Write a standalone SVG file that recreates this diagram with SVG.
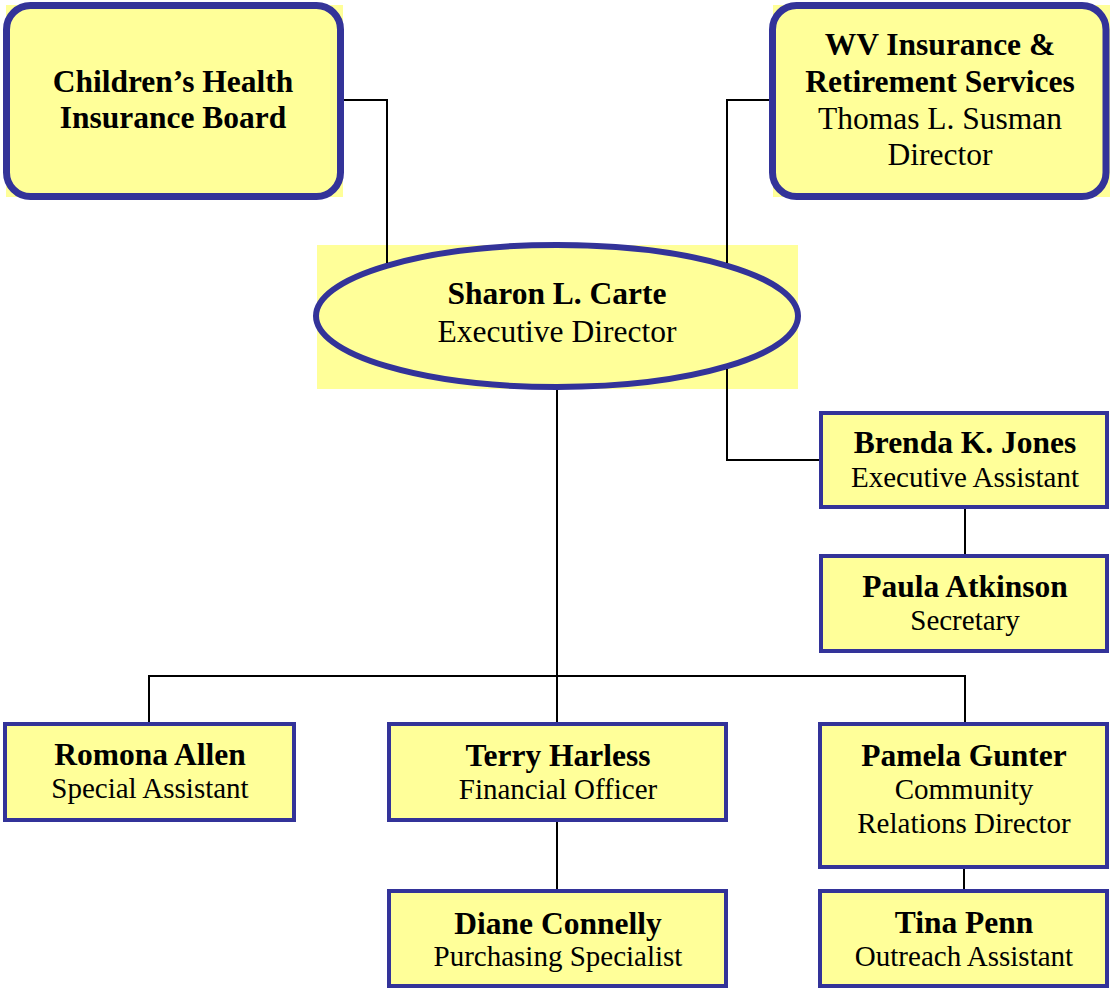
<svg xmlns="http://www.w3.org/2000/svg" width="1110" height="988" viewBox="0 0 1110 988">
<style>
.bg{fill:#FFFF99;}
.rbox{fill:#FFFF99;stroke:#333399;stroke-width:7;}
.box{fill:#FFFF99;stroke:#333399;stroke-width:4;}
.ell{fill:#FFFF99;stroke:#333399;stroke-width:6;}
.conn{fill:none;stroke:#000000;stroke-width:2;}
text{font-family:"Liberation Serif","Times New Roman",serif;fill:#000;text-anchor:middle;}
.b{font-weight:bold;font-size:31.5px;}
.r{font-size:31.5px;}
.bs{font-weight:bold;font-size:31.5px;}
.rs{font-size:29px;}
</style>
<rect width="1110" height="988" fill="#ffffff"/>
<g id="node-chib">
<rect class="bg" x="6" y="5" width="337" height="192"/>
<rect class="rbox" x="6.5" y="5.5" width="334" height="191" rx="24"/>
<text class="b" x="173" y="92">Children’s Health</text>
<text class="b" x="173" y="128">Insurance Board</text>
</g>
<g id="node-wv">
<rect class="bg" x="773" y="5" width="337" height="192"/>
<rect class="rbox" x="772.5" y="5.5" width="333.5" height="191" rx="24"/>
<text class="b" x="940" y="55">WV Insurance &amp;</text>
<text class="b" x="940" y="92">Retirement Services</text>
<text class="r" x="940" y="129">Thomas L. Susman</text>
<text class="r" x="940" y="165">Director</text>
</g>
<g id="node-carte">
<rect class="bg" x="317" y="245" width="481" height="144"/>
<ellipse class="ell" cx="557" cy="316" rx="241" ry="71"/>
<text class="b" x="557" y="304">Sharon L. Carte</text>
<text class="r" x="557" y="342">Executive Director</text>
</g>
<g id="node-jones">
<rect class="box" x="821" y="413" width="286" height="94"/>
<text class="bs" x="965" y="453">Brenda K. Jones</text>
<text class="rs" x="965" y="487">Executive Assistant</text>
</g>
<g id="node-atkinson">
<rect class="box" x="821" y="556" width="286" height="95"/>
<text class="bs" x="965" y="597">Paula Atkinson</text>
<text class="rs" x="965" y="630">Secretary</text>
</g>
<g id="node-allen">
<rect class="box" x="5" y="724" width="289" height="96"/>
<text class="bs" x="150" y="765">Romona Allen</text>
<text class="rs" x="150" y="798">Special Assistant</text>
</g>
<g id="node-harless">
<rect class="box" x="389" y="724" width="337" height="96"/>
<text class="bs" x="558" y="766">Terry Harless</text>
<text class="rs" x="558" y="799">Financial Officer</text>
</g>
<g id="node-connelly">
<rect class="box" x="389" y="891" width="337" height="95"/>
<text class="bs" x="558" y="934">Diane Connelly</text>
<text class="rs" x="558" y="966">Purchasing Specialist</text>
</g>
<g id="node-gunter">
<rect class="box" x="820" y="724" width="287" height="143"/>
<text class="bs" x="964" y="766">Pamela Gunter</text>
<text class="rs" x="964" y="799">Community</text>
<text class="rs" x="964" y="833">Relations Director</text>
</g>
<g id="node-penn">
<rect class="box" x="820" y="891" width="287" height="95"/>
<text class="bs" x="964" y="933">Tina Penn</text>
<text class="rs" x="964" y="966">Outreach Assistant</text>
</g>
<g id="connectors">
<path class="conn" d="M344 100 H387 V263"/>
<path class="conn" d="M769 100 H727 V263"/>
<path class="conn" d="M727 369 V460 H819"/>
<path class="conn" d="M965 509 V554"/>
<path class="conn" d="M557 390 V722"/>
<path class="conn" d="M149 722 V676 H965 V722"/>
<path class="conn" d="M557 822 V889"/>
<path class="conn" d="M964 869 V889"/>
</g>
</svg>
